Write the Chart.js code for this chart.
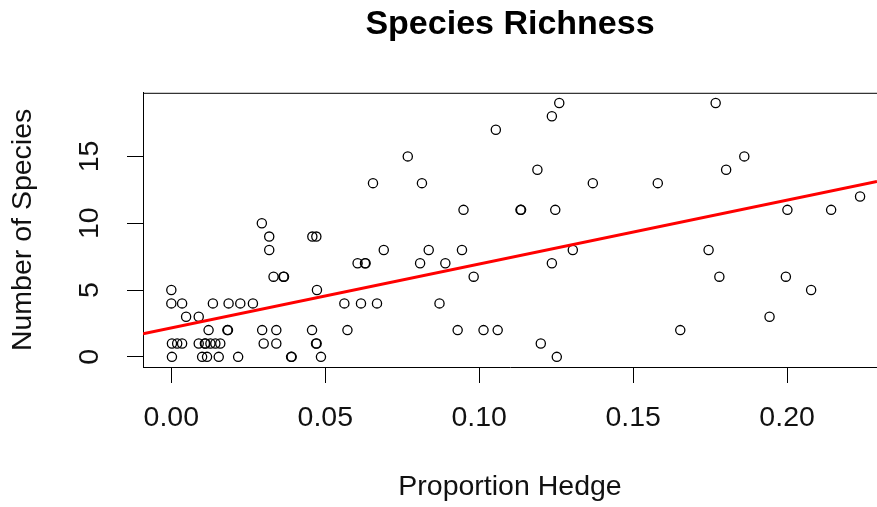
<!DOCTYPE html>
<html>
<head>
<meta charset="utf-8">
<script src="https://cdn.jsdelivr.net/npm/chart.js@4/dist/chart.umd.min.js"></script>
<style>
    html, body { margin: 0; padding: 0; background: #ffffff; }
    #wrap { width: 877px; height: 507px; }
</style>
</head>
<body>
<div id="wrap"><canvas id="richnessChart"></canvas></div>
<script>
// proportion of hedge (x) and number of species (y)
const hedge = [
    0.0002, 0.0100, 0.0116, 0.0154, 0.0217, 0.0389, 0.0391, 0.0486, 0.1252,
    0.0002, 0.0019, 0.0035, 0.0089, 0.0109, 0.0111, 0.0127, 0.0143, 0.0159, 0.0300, 0.0341, 0.0470, 0.0472, 0.1200,
    0.0121, 0.0182, 0.0184, 0.0295, 0.0341, 0.0457, 0.0572, 0.0930, 0.1014, 0.1060, 0.1653,
    0.0048, 0.0089, 0.1943,
    0.0000, 0.0035, 0.0135, 0.0186, 0.0224, 0.0265, 0.0562, 0.0616, 0.0668, 0.0871,
    0.0000, 0.0473, 0.2078,
    0.0332, 0.0364, 0.0366, 0.0982, 0.1780, 0.1996,
    0.0605, 0.0629, 0.0631, 0.0808, 0.0890, 0.1236,
    0.0318, 0.0690, 0.0836, 0.0944, 0.1304, 0.1745,
    0.0318, 0.0458, 0.0471,
    0.0294,
    0.0949, 0.1134, 0.1136, 0.1247, 0.2001, 0.2143,
    0.2237,
    0.0655, 0.0814, 0.1369, 0.1580,
    0.1189, 0.1802,
    0.0768, 0.1861,
    0.1054,
    0.1236,
    0.1260, 0.1768
];
const species = [
    0, 0, 0, 0, 0, 0, 0, 0, 0,
    1, 1, 1, 1, 1, 1, 1, 1, 1, 1, 1, 1, 1, 1,
    2, 2, 2, 2, 2, 2, 2, 2, 2, 2, 2,
    3, 3, 3,
    4, 4, 4, 4, 4, 4, 4, 4, 4, 4,
    5, 5, 5,
    6, 6, 6, 6, 6, 6,
    7, 7, 7, 7, 7, 7,
    8, 8, 8, 8, 8, 8,
    9, 9, 9,
    10,
    11, 11, 11, 11, 11, 11,
    12,
    13, 13, 13, 13,
    14, 14,
    15, 15,
    17,
    18,
    19, 19
];

// fitted line, ends at the plot edges
const fitX = [-0.0092, 0.2292];
const fitY = [1.72, 13.12];

const xTicks = [0, 0.05, 0.10, 0.15, 0.20];
const yTicks = [0, 5, 10, 15];

const FONT = "'Liberation Sans', Arial, sans-serif";

// R style extras: top frame line and rotated y tick labels
const rAxes = {
    id: "rAxes",
    afterDraw(chart) {
        const ctx = chart.ctx;
        const area = chart.chartArea;
        const yScale = chart.scales.y;
        ctx.save();
        ctx.strokeStyle = "#000";
        ctx.lineWidth = 1;
        ctx.beginPath();
        ctx.moveTo(area.left, area.top + 0.5);
        ctx.lineTo(area.right, area.top + 0.5);
        ctx.stroke();

        ctx.fillStyle = "#111";
        ctx.font = "28.5px " + FONT;
        ctx.textAlign = "center";
        ctx.textBaseline = "middle";
        yTicks.forEach(v => {
            const py = yScale.getPixelForValue(v);
            ctx.save();
            ctx.translate(90, py);
            ctx.rotate(-Math.PI / 2);
            ctx.fillText(String(v), 0, 0);
            ctx.restore();
        });
        ctx.restore();
    }
};

new Chart(document.getElementById("richnessChart"), {
    type: "scatter",
    data: {
        datasets: [
            {
                label: "fit",
                data: fitX.map((x, i) => ({ x: x, y: fitY[i] })),
                showLine: true,
                borderColor: "#ff0000",
                borderWidth: 3,
                pointRadius: 0
            },
            {
                label: "Species",
                data: hedge.map((x, i) => ({ x: x, y: species[i] })),
                pointStyle: "circle",
                pointRadius: 4.6,
                borderColor: "#000",
                borderWidth: 1.3,
                backgroundColor: "rgba(0,0,0,0)"
            }
        ]
    },
    options: {
        responsive: true,
        maintainAspectRatio: false,
        animation: false,
        layout: { padding: 0, autoPadding: false },
        plugins: {
            legend: { display: false },
            tooltip: { enabled: false },
            title: {
                display: true,
                text: "Species Richness",
                fullSize: false,
                color: "#000",
                font: { family: FONT, size: 34, weight: "bold" },
                padding: { top: 4, bottom: 48 }
            }
        },
        scales: {
            x: {
                type: "linear",
                min: fitX[0],
                max: fitX[1],
                afterFit: scale => {
                    scale.height = 140;
                    scale.paddingLeft = 0;
                    scale.paddingRight = 0;
                },
                afterBuildTicks: scale => {
                    scale.ticks = xTicks.map(v => ({ value: v }));
                },
                border: { display: true, color: "#000", width: 1 },
                grid: {
                    drawOnChartArea: false,
                    drawTicks: true,
                    tickLength: 16,
                    color: "#000"
                },
                ticks: {
                    color: "#111",
                    padding: 18,
                    maxRotation: 0,
                    font: { family: FONT, size: 28.5 },
                    callback: v => Number(v).toFixed(2)
                },
                title: {
                    display: true,
                    text: "Proportion Hedge",
                    color: "#111",
                    font: { family: FONT, size: 28.5 },
                    padding: { top: 0, bottom: 3 }
                }
            },
            y: {
                type: "linear",
                min: -0.76,
                max: 19.76,
                afterFit: scale => {
                    scale.width = 143;
                    scale.paddingTop = 0;
                    scale.paddingBottom = 0;
                },
                afterBuildTicks: scale => {
                    scale.ticks = yTicks.map(v => ({ value: v }));
                },
                border: { display: true, color: "#000", width: 1 },
                grid: {
                    drawOnChartArea: false,
                    drawTicks: true,
                    tickLength: 16,
                    color: "#000"
                },
                ticks: { display: false },
                title: {
                    display: true,
                    text: "Number of Species",
                    color: "#111",
                    font: { family: FONT, size: 28.5 },
                    padding: { top: 6, bottom: 0 }
                }
            }
        }
    },
    plugins: [rAxes]
});
</script>
</body>
</html>
